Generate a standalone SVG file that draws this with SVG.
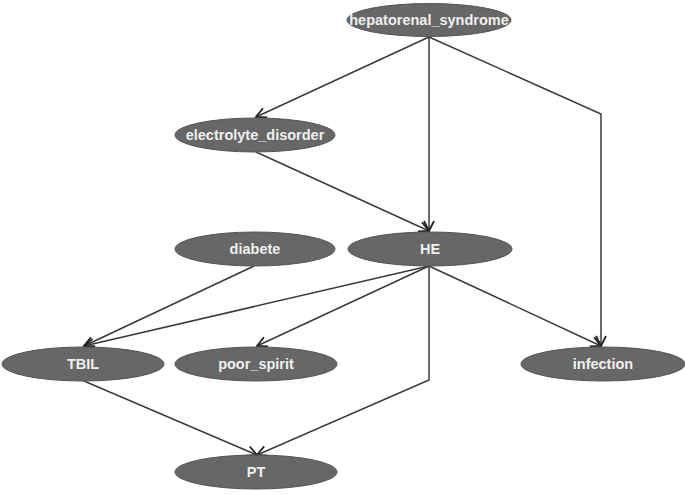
<svg xmlns="http://www.w3.org/2000/svg" width="685" height="495" viewBox="0 0 685 495">
<defs>
<marker id="arr" viewBox="0 0 12 12" refX="11" refY="6" markerWidth="12" markerHeight="12" markerUnits="userSpaceOnUse" orient="auto">
<path d="M1,1 L11,6 L1,11" fill="none" stroke="#222" stroke-width="1.8"/>
</marker>
<style>
.n ellipse{fill:#676767;stroke:#555;stroke-width:1}
.n text{fill:#f0f0f0;font-family:"Liberation Sans",Arial,sans-serif;font-size:14.5px;font-weight:bold;text-anchor:middle;dominant-baseline:central}
.e path{fill:none;stroke:#3a3a3a;stroke-width:1.5;marker-end:url(#arr)}
</style>
</defs>
<rect width="685" height="495" fill="#fff"/>
<g id="connectors" class="e">
<path d="M429,37 L256,117"/>
<path d="M429,37 L429,231"/>
<path d="M429,37 L601,114 L601,346"/>
<path d="M256,152 L429,231"/>
<path d="M254,266 L84,346"/>
<path d="M429,266 L84,346"/>
<path d="M429,266 L257,346"/>
<path d="M429,266 L601,346"/>
<path d="M429,266 L429,380 L257,455"/>
<path d="M84,381 L257,455"/>
</g>
<g id="hepatorenal_syndrome" class="n"><ellipse cx="429" cy="20" rx="82" ry="16.5"/><text x="429" y="20">hepatorenal_syndrome</text></g>
<g id="electrolyte_disorder" class="n"><ellipse cx="255" cy="135" rx="80" ry="17"/><text x="255" y="135">electrolyte_disorder</text></g>
<g id="diabete" class="n"><ellipse cx="255" cy="249" rx="80" ry="17"/><text x="255" y="249">diabete</text></g>
<g id="HE" class="n"><ellipse cx="430" cy="249" rx="82" ry="17"/><text x="430" y="249">HE</text></g>
<g id="TBIL" class="n"><ellipse cx="83" cy="364" rx="81" ry="17"/><text x="83" y="364">TBIL</text></g>
<g id="poor_spirit" class="n"><ellipse cx="256" cy="364" rx="81" ry="17"/><text x="256" y="364">poor_spirit</text></g>
<g id="infection" class="n"><ellipse cx="603" cy="364" rx="82" ry="17"/><text x="603" y="364">infection</text></g>
<g id="PT" class="n"><ellipse cx="256" cy="472" rx="81" ry="17"/><text x="256" y="472">PT</text></g>
</svg>
